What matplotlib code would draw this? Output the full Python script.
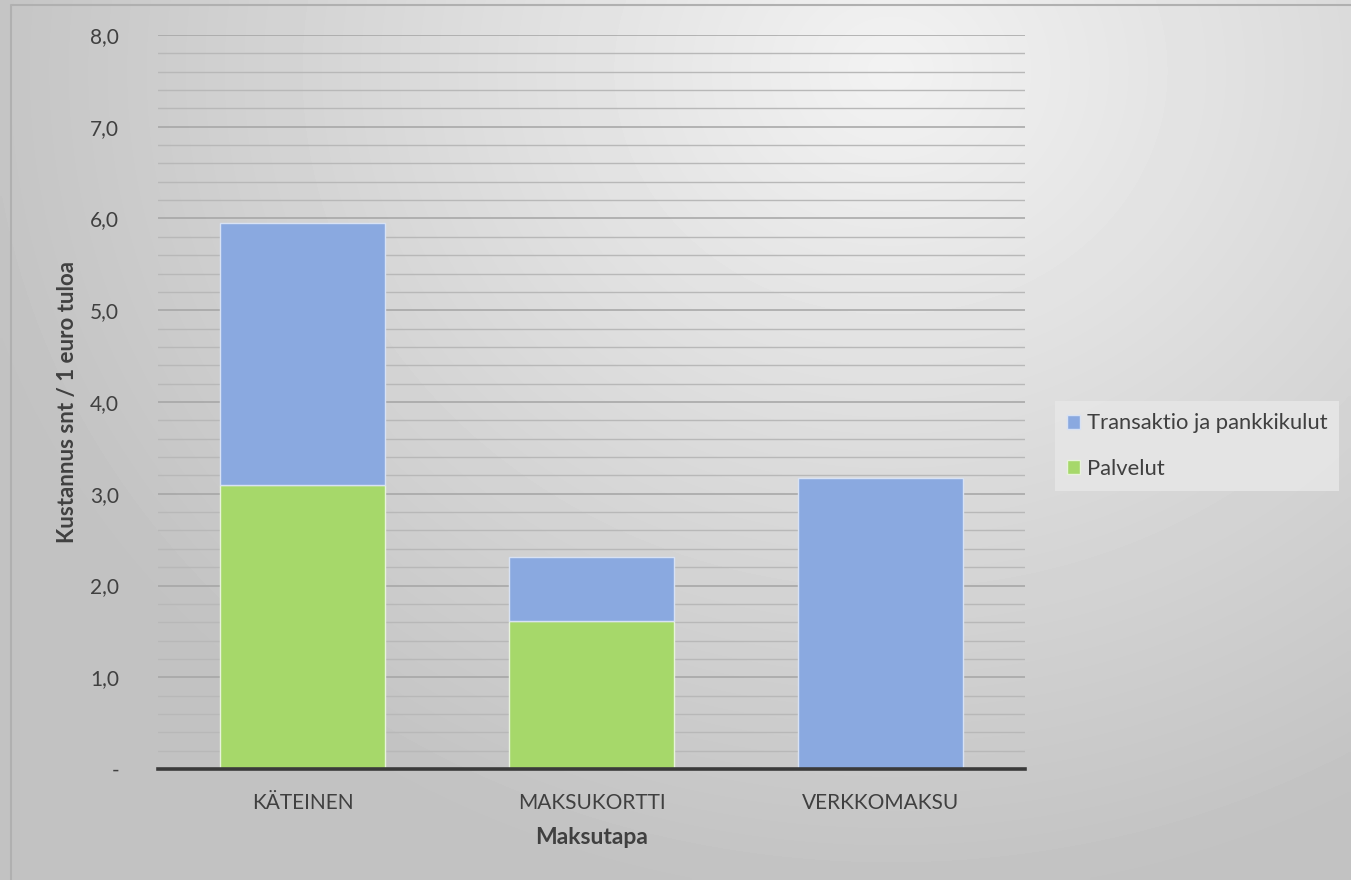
import numpy as np
import matplotlib.pyplot as plt
from matplotlib.ticker import MultipleLocator, FuncFormatter
from matplotlib.patches import Patch

plt.rcParams['font.family'] = ['Lato', 'DejaVu Sans']

categories = ["KÄTEINEN", "MAKSUKORTTI", "VERKKOMAKSU"]
palvelut = [3.09, 1.61, 0.0]
transaktio = [2.86, 0.70, 3.17]

BLUE = "#8aa9e0"
GREEN = "#a6d86a"
TXT = "#404040"

fig = plt.figure(figsize=(13.51, 8.80), dpi=100)

# background: soft radial gray gradient like the office chart area
bg = fig.add_axes([0, 0, 1, 1], zorder=-10)
yy, xx = np.mgrid[0:1:200j, 0:1:300j]
d = np.sqrt(((xx - 0.66) * 1.35) ** 2 + (yy - 0.08) ** 2)
shade = np.clip(0.95 - 0.20 * d, 0.76, 0.95)
bg.imshow(shade, cmap="gray", vmin=0, vmax=1, extent=[0, 1, 1, 0],
          aspect="auto", interpolation="bilinear")
bg.set_xlim(0, 1); bg.set_ylim(1, 0)
bg.plot([11 / 1351, 11 / 1351, 1], [1.0, 5 / 880, 5 / 880], color="#b0b0b0", lw=1.5)
bg.axis("off")

ax = fig.add_axes([158 / 1351, 1 - 769 / 880, (1025 - 158) / 1351, (769 - 35) / 880])
ax.patch.set_alpha(0)

x = np.arange(len(categories))
w = 0.57
ax.bar(x, palvelut, w, color=GREEN, edgecolor="#e8f3dc", lw=1.0, zorder=3)
ax.bar(x, transaktio, w, bottom=palvelut, color=BLUE, edgecolor="#d8e2f4", lw=1.0, zorder=3)

ax.set_xlim(-0.5, 2.5)
ax.set_ylim(0, 8)
ax.yaxis.set_major_locator(MultipleLocator(1))
ax.yaxis.set_minor_locator(MultipleLocator(0.2))
ax.yaxis.set_major_formatter(FuncFormatter(
    lambda v, p: "-" if abs(v) < 1e-9 else f"{v:.1f}".replace(".", ",")))
ax.grid(True, which="minor", axis="y", color="#b8b8b8", lw=1.0, zorder=0)
ax.grid(True, which="major", axis="y", color="#a4a4a4", lw=1.1, zorder=0)
ax.set_axisbelow(True)

for s in ["top", "right", "left"]:
    ax.spines[s].set_visible(False)
ax.spines["bottom"].set_color("#3a3a3a")
ax.spines["bottom"].set_linewidth(2.6)
ax.spines["bottom"].set_zorder(4)

ax.set_xticks(x)
ax.set_xticklabels(categories)
ax.tick_params(axis="both", which="both", length=0, colors=TXT, labelsize=15)
ax.tick_params(axis="x", pad=17)
ax.tick_params(axis="y", pad=28)

ax.set_xlabel("Maksutapa", fontsize=16.5, fontweight="bold", color=TXT, labelpad=10)
ax.set_ylabel("Kustannus snt / 1 euro tuloa", fontsize=16, fontweight="bold",
              color=TXT, labelpad=9)

handles = [Patch(facecolor=BLUE, edgecolor="#d8e2f4", label="Transaktio ja pankkikulut"),
           Patch(facecolor=GREEN, edgecolor="#e8f3dc", label="Palvelut")]
leg = fig.legend(handles=handles, loc="center left", bbox_to_anchor=(1044 / 1351, 1 - 446 / 880),
                 frameon=True, fontsize=15.8, handlelength=0.6, handleheight=0.6,
                 handletextpad=0.3, labelspacing=1.15, borderpad=0.55, fancybox=False)
leg.get_frame().set_facecolor("#e6e6e6")
leg.get_frame().set_edgecolor("none")
leg.get_frame().set_alpha(0.9)
for t in leg.get_texts():
    t.set_color(TXT)

fig.savefig("out.png", dpi=100)
